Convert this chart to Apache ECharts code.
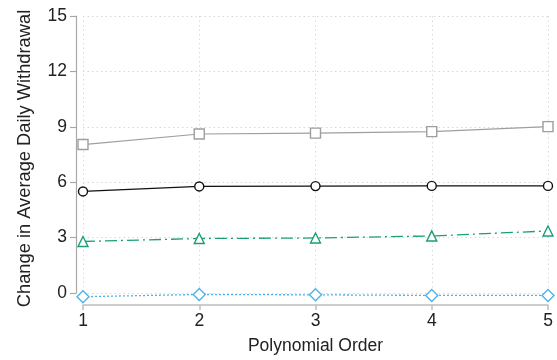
<!DOCTYPE html>
<html><head><meta charset="utf-8">
<script src="https://cdn.jsdelivr.net/npm/echarts@6/dist/echarts.min.js"></script>
<style>html,body{margin:0;padding:0;background:#fff}#c{width:557px;height:360px}</style>
</head><body><div id="c"></div>
<script>
var orders = [1, 2, 3, 4, 5];
var grayVals = [8.04, 8.61, 8.66, 8.74, 9.01];
var blackVals = [5.50, 5.77, 5.79, 5.80, 5.80];
var greenVals = [2.79, 2.95, 2.98, 3.09, 3.36];
var blueVals = [-0.20, -0.08, -0.10, -0.13, -0.13];
var yTicks = [0, 3, 6, 9, 12, 15];

function pts(v){ return orders.map(function(o,i){ return [o, v[i]]; }); }
function ser(v, color, symbol, type, lw, size){
  return {
    type: 'line', data: pts(v), clip: false, symbol: symbol, symbolSize: size,
    showAllSymbol: true,
    lineStyle: {color: color, width: lw, type: type},
    itemStyle: {color: '#fff', borderColor: color, borderWidth: 1.4},
    emphasis: {disabled: true}, animation: false
  };
}
var chart = echarts.init(document.getElementById('c'), null, {renderer: 'canvas'});
var font = "'Liberation Sans', Helvetica, Arial, sans-serif";
chart.setOption({
  animation: false,
  grid: {left: 83, right: 9, top: 16, bottom: 67, containLabel: false},
  xAxis: {
    type: 'value', min: 1, max: 5, interval: 1, offset: 12,
    name: 'Polynomial Order', nameLocation: 'middle', nameGap: 32,
    nameTextStyle: {fontFamily: font, fontSize: 17.5, color: '#222'},
    axisLine: {show: true, onZero: false, lineStyle: {color: '#bdbdbd', width: 1.5}},
    axisTick: {show: true, length: 5, lineStyle: {color: '#bdbdbd', width: 1.5}},
    axisLabel: {fontFamily: font, fontSize: 17.5, color: '#222', margin: 7},
    splitLine: {show: true, lineStyle: {color: '#dcdcdc', type: [1.5, 3], width: 1}}
  },
  yAxis: {
    type: 'value', min: 0, max: 15, interval: 3, offset: 7,
    name: 'Change in Average Daily Withdrawal', nameLocation: 'middle', nameGap: 42,
    nameTextStyle: {fontFamily: font, fontSize: 18.3, color: '#222', padding: [0, 8, 0, 0]},
    axisLine: {show: true, onZero: false, lineStyle: {color: '#a8a8a8', width: 1.2}},
    axisTick: {show: true, length: 6, lineStyle: {color: '#a8a8a8', width: 1.2}},
    axisLabel: {fontFamily: font, fontSize: 17.5, color: '#222', margin: 9,
      formatter: function(v){ return yTicks.indexOf(v) >= 0 ? String(v) : ''; }},
    splitLine: {show: true, lineStyle: {color: '#d8d8d8', type: [1.5, 3], width: 1}}
  },
  series: [
    ser(grayVals, '#9e9e9e', 'rect', 'solid', 1.2, 10),
    ser(blackVals, '#111111', 'circle', 'solid', 1.3, 9),
    ser(greenVals, '#1b9e77', 'triangle', [12, 4, 2, 4], 1.3, 10),
    ser(blueVals, '#4fb2ea', 'diamond', [2, 2], 1.3, 12)
  ]
});
</script></body></html>
